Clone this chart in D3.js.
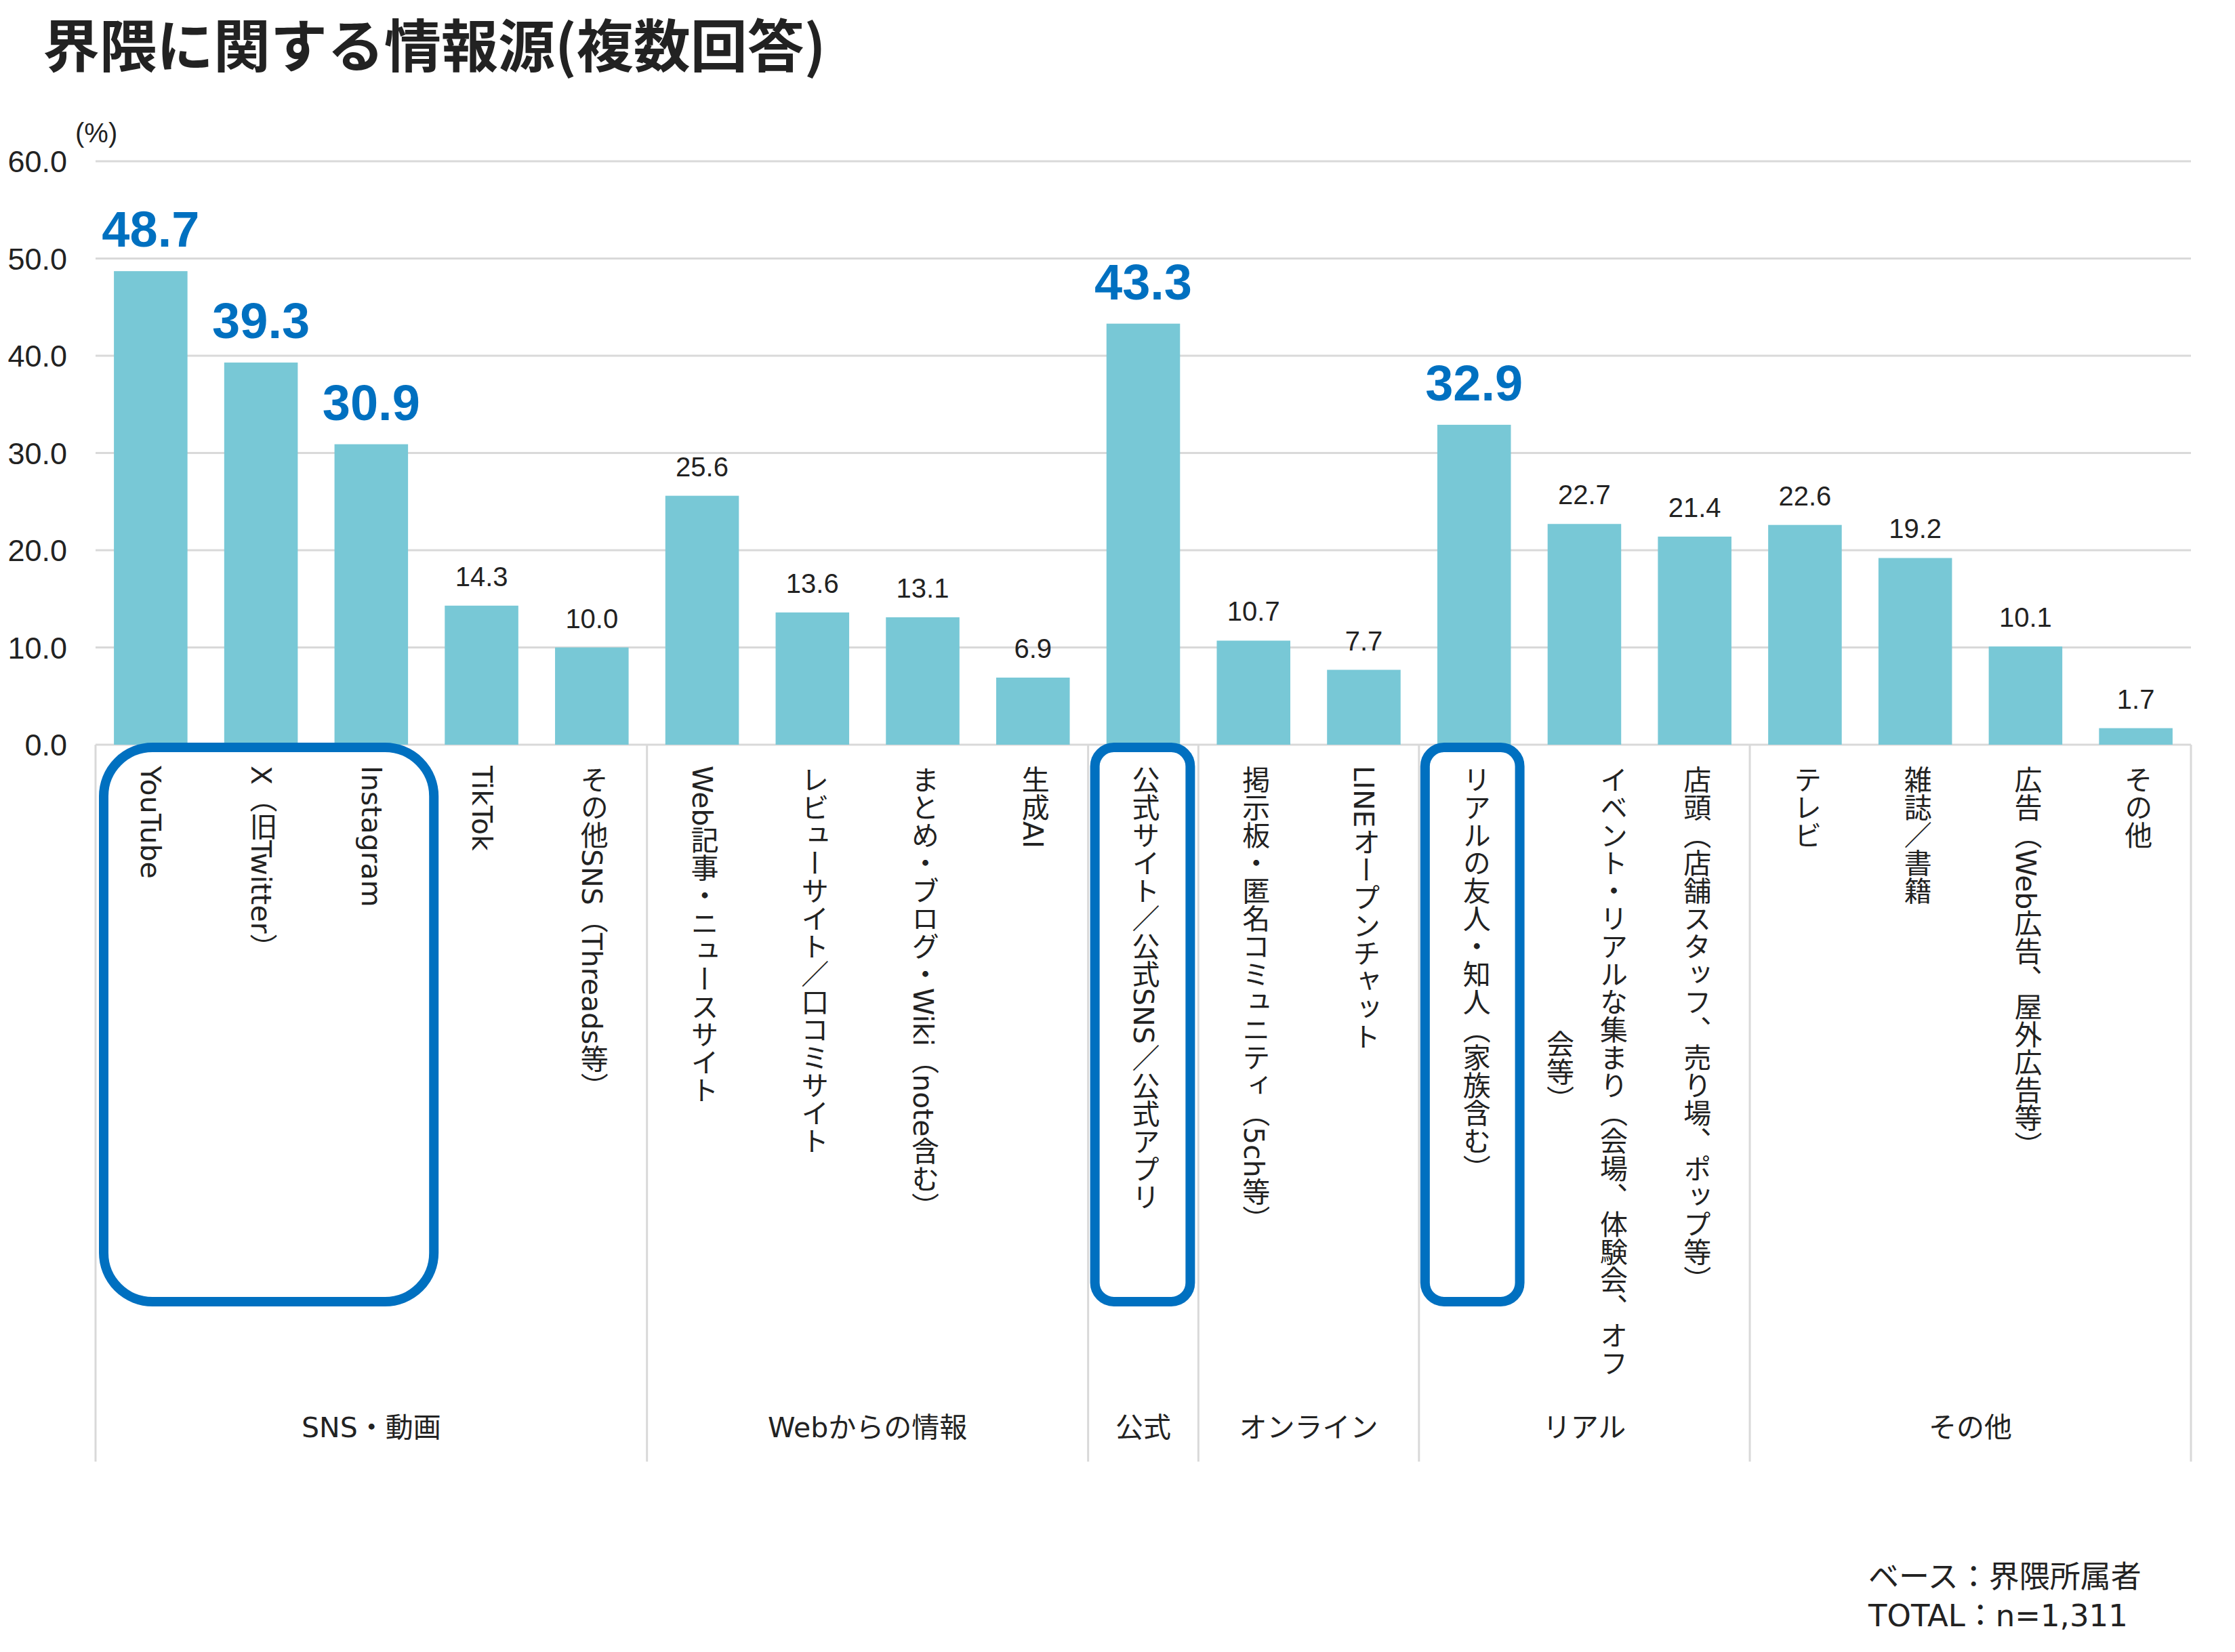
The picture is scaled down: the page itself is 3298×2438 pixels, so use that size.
<!DOCTYPE html>
<html>
<head>
<meta charset="utf-8">
<script src="https://cdn.jsdelivr.net/npm/d3@7"></script>
<style>
  html, body { margin: 0; padding: 0; background: #fff; }
  svg { display: block; }
</style>
</head>
<body>
<script>
// ---- data ----
const categories = [
  "YouTube", "X（旧Twitter）", "Instagram", "TikTok", "その他SNS（Threads等）",
  "Web記事・ニュースサイト", "レビューサイト／口コミサイト", "まとめ・ブログ・Wiki（note含む）", "生成AI",
  "公式サイト／公式SNS／公式アプリ",
  "掲示板・匿名コミュニティ（5ch等）", "LINEオープンチャット",
  "リアルの友人・知人（家族含む）", "イベント・リアルな集まり（会場、体験会、オフ会等）", "店頭（店舗スタッフ、売り場、ポップ等）",
  "テレビ", "雑誌／書籍", "広告（Web広告、屋外広告等）", "その他"
];
const values = [48.7, 39.3, 30.9, 14.3, 10.0, 25.6, 13.6, 13.1, 6.9, 43.3, 10.7, 7.7, 32.9, 22.7, 21.4, 22.6, 19.2, 10.1, 1.7];
const highlighted = [0, 1, 2, 9, 12];
const groupNames = ["SNS・動画", "Webからの情報", "公式", "オンライン", "リアル", "その他"];
const groupSizes = [5, 4, 1, 2, 3, 4];
const highlightBoxes = [[0, 2], [9, 9], [12, 12]];
const yTicks = [0, 10, 20, 30, 40, 50, 60];
const titleText = "界隈に関する情報源(複数回答)";
const unitText = "(%)";
const footerLines = ["ベース：界隈所属者", "TOTAL：n=1,311"];

// ---- layout ----
const W = 3298, H = 2438;
const plotL = 141, plotR = 3233, plotT = 238, plotB = 1099;
const catBottom = 2157;
const barColor = "#78C8D6";
const blue = "#0070C0";
const gridCol = "#d9d9d9";
const ink = "#222";
const jp = "'Noto Sans CJK JP', 'Noto Sans', sans-serif";
const jpWide = "'DejaVu Sans', 'Noto Sans CJK JP', sans-serif";
const num = "'Liberation Sans', Arial, sans-serif";

const svg = d3.select("body").append("svg").attr("width", W).attr("height", H);
svg.append("rect").attr("width", W).attr("height", H).attr("fill", "#fff");

const pad = 0.333;
const x = d3.scaleBand().domain(d3.range(categories.length)).range([plotL, plotR])
  .paddingInner(pad).paddingOuter(pad / 2);
const step = x.step();
const y = d3.scaleLinear().domain([0, 60]).range([plotB, plotT]);

// title
svg.append("text").attr("x", 63).attr("y", 99)
  .attr("font-family", jp).attr("font-weight", 700).attr("font-size", 84)
  .attr("fill", ink).text(titleText);

// gridlines
svg.append("g").selectAll("line").data(yTicks).join("line")
  .attr("x1", plotL).attr("x2", plotR)
  .attr("y1", d => y(d)).attr("y2", d => y(d))
  .attr("stroke", gridCol).attr("stroke-width", 3);

// y tick labels
svg.append("g").selectAll("text").data(yTicks).join("text")
  .attr("x", 99).attr("y", d => y(d)).attr("dy", "0.36em")
  .attr("text-anchor", "end")
  .attr("font-family", num).attr("font-size", 45).attr("fill", ink)
  .text(d => d3.format(".1f")(d));

svg.append("text").attr("x", 111).attr("y", 210)
  .attr("font-family", num).attr("font-size", 40).attr("fill", ink).text(unitText);

// group separators
const bounds = [0];
groupSizes.forEach(s => bounds.push(bounds[bounds.length - 1] + s));
svg.append("g").selectAll("line").data(bounds).join("line")
  .attr("x1", d => plotL + d * step).attr("x2", d => plotL + d * step)
  .attr("y1", plotB).attr("y2", catBottom)
  .attr("stroke", gridCol).attr("stroke-width", 3);

// group labels
svg.append("g").selectAll("text").data(groupNames).join("text")
  .attr("x", (d, i) => plotL + (bounds[i] + bounds[i + 1]) / 2 * step)
  .attr("y", 2107).attr("dy", "0.35em").attr("text-anchor", "middle")
  .attr("font-family", jpWide).attr("font-size", 41).attr("fill", ink)
  .text(d => d);

// bars
svg.append("g").selectAll("rect").data(values).join("rect")
  .attr("x", (d, i) => x(i)).attr("width", x.bandwidth())
  .attr("y", d => y(d)).attr("height", d => plotB - y(d))
  .attr("fill", barColor);

// value labels
svg.append("g").selectAll("text").data(values).join("text")
  .attr("x", (d, i) => x(i) + x.bandwidth() / 2)
  .attr("y", (d, i) => y(d) - (highlighted.includes(i) ? 36 : 29))
  .attr("text-anchor", "middle")
  .attr("font-family", num)
  .attr("font-weight", (d, i) => highlighted.includes(i) ? 700 : 400)
  .attr("font-size", (d, i) => highlighted.includes(i) ? 74 : 40)
  .attr("fill", (d, i) => highlighted.includes(i) ? blue : ink)
  .text(d => d3.format(".1f")(d));

// category labels (vertical)
const maxChars = 22;
const labG = svg.append("g");
categories.forEach((c, i) => {
  const chars = Array.from(c);
  const lines = chars.length > maxChars
    ? [chars.slice(0, maxChars).join(""), chars.slice(maxChars).join("")]
    : [c];
  const cx = x(i) + x.bandwidth() / 2;
  const gap = 79;
  const n = lines.length;
  let firstLen = 0;
  lines.forEach((ln, k) => {
    const lx = cx + ((n - 1) / 2 - k) * gap;
    const t = labG.append("text")
      .attr("x", lx)
      .style("writing-mode", "vertical-rl")
      .attr("font-family", jpWide).attr("font-size", 41).attr("fill", ink)
      .text(ln);
    if (k === 0) {
      t.attr("y", 1130).attr("text-anchor", "start");
      firstLen = t.node().getComputedTextLength();
    } else {
      t.attr("y", 1130 + firstLen / 2).attr("text-anchor", "middle");
    }
  });
});

// highlight boxes (left inset, right offset relative to band edges)
const boxAdj = [[12, 11], [10, -12], [9, -14]];
const boxTop = 1103, boxBottom = 1921;
svg.append("g").selectAll("rect").data(highlightBoxes).join("rect")
  .attr("x", (d, i) => plotL + d[0] * step + boxAdj[i][0])
  .attr("width", (d, i) => (d[1] - d[0] + 1) * step - boxAdj[i][0] + boxAdj[i][1])
  .attr("y", boxTop).attr("height", boxBottom - boxTop)
  .attr("rx", (d, i) => d[1] > d[0] ? 72 : 28)
  .attr("fill", "none").attr("stroke", blue).attr("stroke-width", 14);

// footer
svg.append("g").selectAll("text").data(footerLines).join("text")
  .attr("x", 2757).attr("y", (d, i) => 2343 + i * 57)
  .attr("font-family", jpWide).attr("font-size", 45).attr("fill", ink)
  .text(d => d);
</script>
</body>
</html>
